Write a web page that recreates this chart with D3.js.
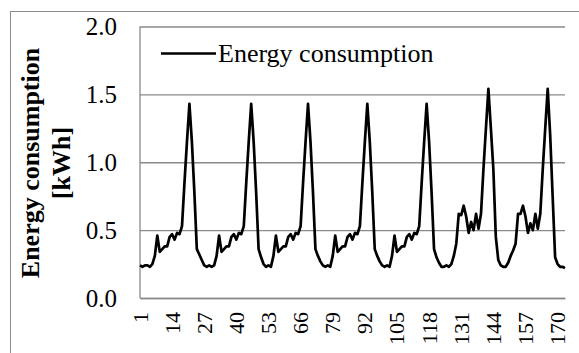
<!DOCTYPE html>
<html><head><meta charset="utf-8">
<script src="https://cdn.jsdelivr.net/npm/d3@7"></script>
<style>
html,body{margin:0;padding:0;background:#fff;}
svg{display:block;}
</style></head>
<body>
<svg id="chart" width="579" height="353" style="font-family:'Liberation Serif','Times New Roman',serif"></svg>
<script>
const seriesName = "Energy consumption";
const yTitleLines = ["Energy consumption", "[kWh]"];
const hours = d3.range(1, 174);
const xTickLabels = [1, 14, 27, 40, 53, 66, 79, 92, 105, 118, 131, 144, 157, 170];
const yTicks = [0, 0.5, 1.0, 1.5, 2.0];
const energy = [
  0.24,0.23,0.24,0.24,0.23,0.25,0.31,0.46,0.34,0.36,0.38,0.38,0.45,0.47,0.43,0.48,0.47,0.53,0.85,1.15,
  1.43,1.15,0.78,0.36,0.32,0.28,0.24,0.23,0.24,0.23,0.24,0.31,0.46,0.34,0.36,0.38,0.38,0.45,0.47,0.43,
  0.48,0.47,0.53,0.85,1.15,1.43,1.15,0.78,0.36,0.30,0.25,0.23,0.24,0.23,0.31,0.46,0.34,0.36,0.38,0.38,
  0.45,0.47,0.43,0.48,0.47,0.53,0.85,1.15,1.43,1.15,0.78,0.36,0.31,0.27,0.24,0.23,0.24,0.23,0.31,0.46,
  0.34,0.36,0.38,0.38,0.45,0.47,0.43,0.48,0.47,0.53,0.85,1.15,1.43,1.15,0.78,0.36,0.31,0.27,0.24,0.23,
  0.24,0.23,0.31,0.46,0.34,0.36,0.38,0.38,0.45,0.47,0.43,0.48,0.47,0.53,0.85,1.15,1.43,1.15,0.78,0.36,
  0.30,0.26,0.23,0.23,0.24,0.23,0.25,0.31,0.40,0.62,0.61,0.68,0.60,0.48,0.56,0.50,0.62,0.51,0.62,0.95,
  1.25,1.54,1.25,0.95,0.45,0.28,0.24,0.23,0.23,0.26,0.31,0.35,0.40,0.62,0.62,0.68,0.60,0.48,0.55,0.50,
  0.62,0.51,0.62,0.95,1.25,1.54,1.20,0.75,0.30,0.25,0.23,0.23,0.22
];

const FONT = "'Liberation Serif','Times New Roman',serif";
const svg = d3.select("#chart");
const gray = "#8a8a8a";
const L = 140, R = 565, T = 26.5, B = 298;

svg.append("rect").attr("x", 10.5).attr("y", 11.5).attr("width", 600).attr("height", 400)
  .attr("fill", "none").attr("stroke", gray).attr("stroke-width", 1);

const x = d3.scalePoint().domain(hours).range([L, R]);
const y = d3.scaleLinear().domain([0, 2]).range([B, T]);

const yAxis = svg.append("g").attr("transform", `translate(${L},0)`)
  .call(d3.axisLeft(y).tickValues(yTicks).tickFormat(d3.format(".1f")).tickSize(-(R - L)).tickPadding(23));
yAxis.attr("font-family", null).attr("font-size", null);
yAxis.select(".domain").remove();
yAxis.selectAll(".tick line").attr("stroke", gray).attr("stroke-width", 1.3);
yAxis.selectAll(".tick text")
  .style("font-family", FONT).style("font-size", "25px").attr("fill", "#000")
  .attr("dy", "0.32em");

svg.append("line").attr("x1", L).attr("x2", L).attr("y1", T).attr("y2", B)
  .attr("stroke", gray).attr("stroke-width", 1.3);

const xAxis = svg.append("g").attr("transform", `translate(0,${B})`)
  .call(d3.axisBottom(x).tickValues(xTickLabels).tickSize(0).tickFormat(""));
xAxis.select(".domain").attr("stroke", gray).attr("stroke-width", 1.3);

const xl = svg.append("g").attr("class", "xlabels");
xl.selectAll("g").data(xTickLabels).join("g")
  .attr("transform", d => `translate(${x(d)},${B + 14}) rotate(-90)`)
  .append("text")
  .attr("x", 0).attr("y", 7.5)
  .attr("text-anchor", "end")
  .attr("font-family", FONT).attr("font-size", 22).attr("fill", "#000")
  .text(d => String(d));

const line = d3.line().x((d, i) => x(hours[i])).y(d => y(d));
svg.append("path").datum(energy).attr("d", line)
  .attr("fill", "none").attr("stroke", "#000").attr("stroke-width", 2.7)
  .attr("stroke-linejoin", "round");

svg.append("line").attr("x1", 161).attr("x2", 216).attr("y1", 53.5).attr("y2", 53.5)
  .attr("stroke", "#000").attr("stroke-width", 2.7);
svg.append("text").attr("x", 218).attr("y", 62)
  .style("font-family", FONT).style("font-size", "26px").text(seriesName);

const title = svg.append("text").attr("transform", "translate(39,163) rotate(-90)")
  .attr("text-anchor", "middle")
  .style("font-family", FONT).style("font-size", "26px").style("font-weight", "bold");
title.append("tspan").attr("x", 0).attr("y", 0).text(yTitleLines[0]);
title.append("tspan").attr("x", 0).attr("y", 31).text(yTitleLines[1]);
</script>
</body></html>
